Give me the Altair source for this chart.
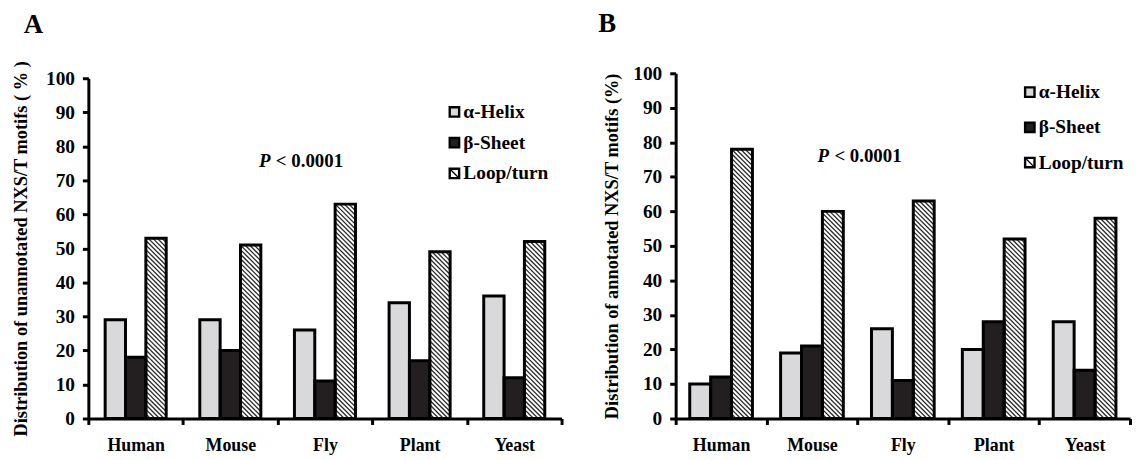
import json
import altair as alt
import pandas as pd

categories = ["Human", "Mouse", "Fly", "Plant", "Yeast"]
series = ["α-Helix", "β-Sheet", "Loop/turn"]
unannotated_helix = [29, 29, 26, 34, 36]
unannotated_sheet = [18, 20, 11, 17, 12]
unannotated_loop = [53, 51, 63, 49, 52]
annotated_helix = [10, 19, 26, 20, 28]
annotated_sheet = [12, 21, 11, 28, 14]
annotated_loop = [78, 60, 63, 52, 58]
y_ticks = list(range(0, 101, 10))
panel_letters = ["A", "B"]
y_titles = ["Distribution of unannotated NXS/T motifs ( % )",
            "Distribution of annotated NXS/T motifs (%)"]
p_parts = ["P", "< 0.0001"]

FONT = "Liberation Serif"
COLORS = ["#d9d9db", "#231f20", "#ffffff"]


def table(h, s, l):
    rows = []
    for i, c in enumerate(categories):
        for j, (name, vals) in enumerate(zip(series, (h, s, l))):
            rows.append({"cat": c, "idx": i, "series": name, "sidx": j,
                         "value": vals[i], "base": 0})
    return pd.DataFrame(rows)


def panel(df, W, H, top, wb, ytitle, title_x, letter, letter_xy, leg_xy, leg_dy, p_xy):
    off = 0.5 - 1.5 * wb
    px_y = (H - top) / 100.0
    bar_px = wb * W / 5.0
    S = bar_px / px_y          # 45 degree drop across one bar, in data units
    STEP = 4.6 / px_y          # vertical stripe spacing

    label_expr = ("datum.value % 1 == 0.5 ? " + json.dumps(categories)
                  + "[floor(datum.value)] : ''")
    xaxis = alt.Axis(values=[k * 0.5 for k in range(11)], labelExpr=label_expr,
                     title=None, grid=False, domainWidth=3, domainColor="black",
                     tickWidth=3, tickSize=6,
                     tickColor={"condition": {"test": "datum.value % 1 != 0",
                                              "value": "transparent"},
                                "value": "black"},
                     labelFont=FONT, labelFontSize=18, labelFontWeight="bold",
                     labelColor="black", labelPadding=12, labelOverlap=False,
                     labelFlush=False)
    yaxis = alt.Axis(values=y_ticks, title=ytitle, grid=False, domainWidth=3,
                     domainColor="black", tickWidth=3, tickSize=6, tickColor="black",
                     labelFont=FONT, labelFontSize=19.5, labelFontWeight="bold",
                     labelColor="black", labelPadding=8,
                     titleFont=FONT, titleFontSize=18.5, titleFontWeight="bold",
                     titleColor="black", titleX=title_x, titleY=(H + top) / 2.0,
                     titleBaseline="middle", titleAngle=270)
    xs = alt.Scale(domain=[0, 5], nice=False, zero=False)
    ys = alt.Scale(domain=[0, 100], range=[H, top], nice=False)
    cs = alt.Scale(domain=series, range=COLORS)

    base = alt.Chart(df).transform_calculate(
        x0=f"datum.idx + {off} + datum.sidx * {wb}",
        x1=f"datum.idx + {off} + (datum.sidx + 1) * {wb}",
    )
    bars = base.mark_rect().encode(
        x=alt.X("x0:Q", scale=xs, axis=xaxis), x2="x1:Q",
        y=alt.Y("value:Q", scale=ys, axis=yaxis), y2="base:Q",
        color=alt.Color("series:N", scale=cs, legend=None),
    )
    hatch = alt.Chart(df).transform_filter("datum.sidx == 2").transform_calculate(
        xl=f"datum.idx + {off} + 2 * {wb}",
        ks=f"sequence(1, ceil((datum.value + {S}) / {STEP}) + 1)",
    ).transform_flatten(["ks"], as_=["k"]).transform_calculate(
        c=f"datum.k * {STEP}",
    ).transform_calculate(
        t0=f"max(0, (datum.c - datum.value) / {S})",
        t1=f"min(1, datum.c / {S})",
    ).transform_filter("datum.t0 < datum.t1").transform_calculate(
        xa=f"datum.xl + datum.t0 * {wb}",
        xb=f"datum.xl + datum.t1 * {wb}",
        ya=f"datum.c - datum.t0 * {S}",
        yb=f"datum.c - datum.t1 * {S}",
    ).mark_rule(color="#2a2a2a", strokeWidth=1.3).encode(
        x=alt.X("xa:Q", scale=xs, axis=xaxis), x2="xb:Q",
        y=alt.Y("ya:Q", scale=ys, axis=yaxis), y2="yb:Q",
    )
    outline = base.mark_rect(fillOpacity=0, stroke="black", strokeWidth=3).encode(
        x=alt.X("x0:Q", scale=xs, axis=xaxis), x2="x1:Q",
        y=alt.Y("value:Q", scale=ys, axis=yaxis), y2="base:Q",
    )

    leg_df = pd.DataFrame({"series": series, "row": list(range(len(series)))})
    leg = alt.Chart(leg_df).transform_calculate(
        lx=f"{leg_xy[0]}", ly=f"{leg_xy[1]} + datum.row * {leg_dy}",
        tx=f"{leg_xy[0] + 9}",
    )
    leg_sq = leg.mark_square(size=90, opacity=1, stroke="black", strokeWidth=2.4).encode(
        x=alt.X("lx:Q", scale=None, axis=None),
        y=alt.Y("ly:Q", scale=None, axis=None),
        color=alt.Color("series:N", scale=cs, legend=None),
    )
    leg_diag = leg.transform_filter("datum.row == 2").mark_point(
        shape="M-0.75,-0.75L0.75,0.75", size=90, filled=False, stroke="black",
        strokeWidth=1.3, opacity=1).encode(
        x=alt.X("lx:Q", scale=None, axis=None),
        y=alt.Y("ly:Q", scale=None, axis=None),
    )
    leg_txt = leg.mark_text(align="left", baseline="middle", font=FONT, fontSize=19.5,
                            fontWeight="bold", color="black").encode(
        x=alt.X("tx:Q", scale=None, axis=None),
        y=alt.Y("ly:Q", scale=None, axis=None),
        text="series:N",
    )

    letter_t = alt.Chart(pd.DataFrame({"t": [letter]})).mark_text(
        align="left", baseline="alphabetic", font=FONT, fontSize=27,
        fontWeight="bold", color="black").encode(
        x=alt.value(letter_xy[0]), y=alt.value(letter_xy[1]), text="t:N")
    p1 = alt.Chart(pd.DataFrame({"t": [p_parts[0]]})).mark_text(
        align="left", baseline="middle", font=FONT, fontSize=19, fontWeight="bold",
        fontStyle="italic", color="black").encode(
        x=alt.value(p_xy[0]), y=alt.value(p_xy[1]), text="t:N")
    p2 = alt.Chart(pd.DataFrame({"t": [p_parts[1]]})).mark_text(
        align="left", baseline="middle", font=FONT, fontSize=19, fontWeight="bold",
        color="black").encode(
        x=alt.value(p_xy[0] + 17), y=alt.value(p_xy[1]), text="t:N")

    return alt.layer(bars, hatch, outline, leg_sq, leg_diag, leg_txt,
                     letter_t, p1, p2).properties(width=W, height=H)


dfA = table(unannotated_helix, unannotated_sheet, unannotated_loop)
dfB = table(annotated_helix, annotated_sheet, annotated_loop)

A = panel(dfA, 477, 348, 5, 0.215, y_titles[0], -68, panel_letters[0],
          (-65, -41), (369, 39), 31, (172, 88))
B = panel(dfB, 458, 348, 0, 0.23, y_titles[1], -65, panel_letters[1],
          (-78, -42), (357, 19), 35.5, (143, 83))

chart = alt.hconcat(A, B, spacing=115, bounds="flush").properties(
    padding={"left": 3, "top": 0, "right": 0, "bottom": 0},
    background="white",
).configure_view(stroke=None)

chart.save("out.html", embed_options={"renderer": "svg", "actions": False})
